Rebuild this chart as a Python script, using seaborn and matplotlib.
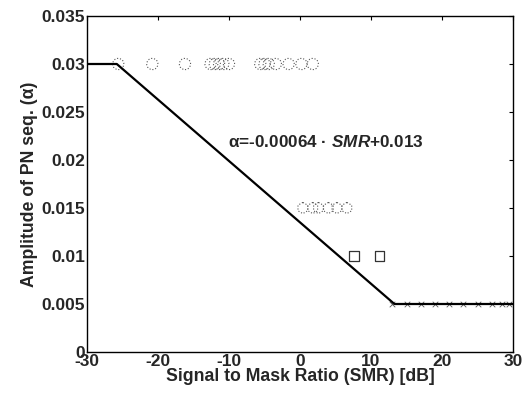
import matplotlib
matplotlib.use("Agg")
import matplotlib.pyplot as plt
import seaborn as sns
import pandas as pd

sns.set_theme(style="white")
plt.rcParams['font.family'] = ['Liberation Sans', 'DejaVu Sans']
plt.rcParams['font.weight'] = 'bold'
plt.rcParams['mathtext.fontset'] = 'custom'
plt.rcParams['mathtext.rm'] = 'Liberation Sans:bold'
plt.rcParams['mathtext.it'] = 'Liberation Sans:italic:bold'
plt.rcParams['mathtext.bf'] = 'Liberation Sans:bold'

# piecewise fit line
line_smr = [-30, -25.8, 13.3, 30]
line_alpha = [0.03, 0.03, 0.005, 0.005]

# measured points
circle_smr = [-25.6, -20.8, -16.2, -12.6, -12.0, -11.4, -10.8, -10.0, -5.6, -5.0, -4.4, -3.4, -1.6, 0.2, 1.8]
circle_alpha = [0.03] * len(circle_smr)
star_smr = [0.4, 1.8, 2.6, 4.0, 5.2, 6.6]
star_alpha = [0.015] * len(star_smr)
square_smr = [7.6, 11.2]
square_alpha = [0.01] * len(square_smr)
x_smr = [13, 15, 17, 19, 21, 23, 25, 27, 28.5, 29.5]
x_alpha = [0.005] * len(x_smr)

xticks = [-30, -20, -10, 0, 10, 20, 30]
yticks = [0, 0.005, 0.01, 0.015, 0.02, 0.025, 0.03, 0.035]
ytick_labels = ["0", "0.005", "0.01", "0.015", "0.02", "0.025", "0.03", "0.035"]

fig = plt.figure(figsize=(5.32, 3.94), dpi=100)
ax = fig.add_axes([0.1635, 0.1066, 0.8008, 0.8528])

line_df = pd.DataFrame({"smr": line_smr, "alpha": line_alpha})
sns.lineplot(data=line_df, x="smr", y="alpha", ax=ax, color="black", linewidth=1.6,
             sort=False, estimator=None)

mk = dict(ax=ax, s=65, facecolor="none", edgecolor="#555555", linewidth=0.8, linestyle=":")
sns.scatterplot(x=circle_smr, y=circle_alpha, marker="o", **mk)
sns.scatterplot(x=star_smr, y=star_alpha, marker="h", **mk)
sns.scatterplot(x=square_smr, y=square_alpha, marker="s", s=50, facecolor="none",
                edgecolor="#333333", linewidth=0.9, ax=ax)
sns.scatterplot(x=x_smr, y=x_alpha, marker="x", s=16, color="#555555", linewidth=0.6, ax=ax)

ax.text(-10.2, 0.0219, r"α=-0.00064 · $\it{SMR}$+0.013", fontsize=12.3,
        fontweight="bold", va="center", ha="left")

ax.set_xlim(-30, 30)
ax.set_ylim(0, 0.035)
ax.set_xticks(xticks)
ax.set_xticklabels([str(t) for t in xticks])
ax.set_yticks(yticks)
ax.set_yticklabels(ytick_labels)
ax.tick_params(direction="in", top=True, right=True, length=3, width=0.8,
               labelsize=12.5, pad=1.5, color="black")
for lab in ax.get_xticklabels() + ax.get_yticklabels():
    lab.set_fontweight("bold")
for sp in ax.spines.values():
    sp.set_color("black")
    sp.set_linewidth(1.0)

ax.set_xlabel("Signal to Mask Ratio (SMR) [dB]", fontsize=12.7, fontweight="bold", labelpad=-1)
ax.set_ylabel("Amplitude of PN seq. (α)", fontsize=12.7, fontweight="bold", labelpad=2)

fig.savefig("out.png", dpi=100)
